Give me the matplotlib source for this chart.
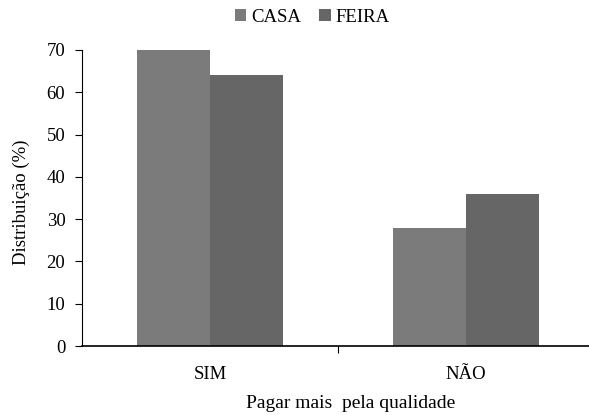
import numpy as np
import matplotlib
matplotlib.use("Agg")
import matplotlib.pyplot as plt

plt.rcParams['font.family'] = ['Liberation Serif', 'DejaVu Serif']

categories = ["SIM", "NÃO"]
casa = [70, 28]
feira = [64, 36]
series_names = ["CASA", "FEIRA"]
yticks = [0, 10, 20, 30, 40, 50, 60, 70]

fig = plt.figure(figsize=(5.89, 4.15), dpi=100)
ax = fig.add_axes([82 / 589, 1 - 346 / 415, 512 / 589, 296 / 415])

x = np.arange(len(categories))
w = 0.285
ax.bar(x - w / 2, casa, w, color="#7b7b7b", label=series_names[0])
ax.bar(x + w / 2, feira, w, color="#666666", label=series_names[1])

ax.set_xlim(-0.5, 1.5)
ax.set_ylim(0, 70)
ax.set_yticks(yticks)
ax.tick_params(axis="y", direction="out", length=5, labelsize=13.5, pad=7)
ax.set_xticks([0.5])
ax.set_xticklabels([""])
ax.tick_params(axis="x", direction="out", length=5)
for xi, lab in zip(x, categories):
    ax.text(xi, -6.7, lab, ha="center", va="center", fontsize=13.5)

for s in ["top", "right"]:
    ax.spines[s].set_visible(False)
ax.spines["left"].set_linewidth(0.8)
ax.spines["bottom"].set_linewidth(1.2)

ax.set_ylabel("Distribuição (%)", fontsize=13.5)
ax.yaxis.set_label_coords(-52 / 512, 0.486)
ax.text(0.55, -13.6, "Pagar mais  pela qualidade", ha="center", va="center",
        fontsize=14)

fig.legend(loc="center", bbox_to_anchor=(0.53, 1 - 17 / 415), ncol=2, frameon=False,
           fontsize=13.5, handlelength=0.6, handleheight=0.6, handletextpad=0.25,
           columnspacing=1.0)

fig.savefig("out.png", dpi=100)
